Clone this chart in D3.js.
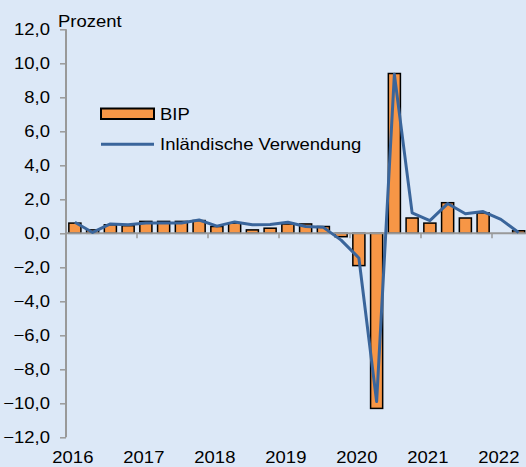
<!DOCTYPE html>
<html>
<head>
<meta charset="utf-8">
<script src="https://cdn.jsdelivr.net/npm/d3@7"></script>
<style>
  html, body { margin: 0; padding: 0; background: #dce8f7; }
  svg { display: block; font-family: "Liberation Sans", Arial, sans-serif; }
</style>
</head>
<body>
<div id="chart"></div>
<script>
// quarterly change, 2016 Q1 .. 2022 Q2
const quarters = [
    '2016Q1','2016Q2','2016Q3','2016Q4','2017Q1','2017Q2','2017Q3','2017Q4',
    '2018Q1','2018Q2','2018Q3','2018Q4','2019Q1','2019Q2','2019Q3','2019Q4',
    '2020Q1','2020Q2','2020Q3','2020Q4','2021Q1','2021Q2','2021Q3','2021Q4',
    '2022Q1','2022Q2'
];
const bip = [0.6, 0.2, 0.5, 0.45, 0.7, 0.7, 0.7, 0.75, 0.4, 0.6, 0.2, 0.3, 0.55, 0.55, 0.4, -0.2,
    -1.9, -10.3, 9.4, 0.9, 0.6, 1.8, 0.9, 1.2, 0.0, 0.15];
const inlVerwendung = [0.65, 0.05, 0.55, 0.5, 0.6, 0.6, 0.6, 0.78, 0.42, 0.67, 0.5, 0.52, 0.65, 0.4, 0.35, -0.4,
    -1.45, -9.9, 9.35, 1.2, 0.75, 1.75, 1.15, 1.28, 0.82, 0.05];
const yearLabels = ['2016', '2017', '2018', '2019', '2020', '2021', '2022'];
const yTicks = [12, 10, 8, 6, 4, 2, 0, -2, -4, -6, -8, -10, -12];

const width = 526, height = 467;
const plotLeft = 66, plotRight = 527.5, plotTop = 29.3, plotBottom = 437.3;
const fontSize = 16.5, stretch = 1.12;

const svg = d3.select('#chart').append('svg')
    .attr('width', width)
    .attr('height', height);

svg.append('rect').attr('width', width).attr('height', height).attr('fill', '#dce8f7');

const x = d3.scaleBand().domain(quarters).range([plotLeft, plotRight])
    .paddingInner(0.32).paddingOuter(0.16);
const y = d3.scaleLinear().domain([-12, 12]).range([plotBottom, plotTop]);
const cx = q => x(q) + x.bandwidth() / 2;

// text helper, glyphs are a bit wider than tall in the original
function label(sel, tx, ty, str, anchor) {
    return sel.append('text')
        .attr('transform', `translate(${tx},${ty}) scale(${stretch},1)`)
        .attr('text-anchor', anchor || 'start')
        .attr('font-size', fontSize)
        .attr('fill', '#000')
        .text(str);
}

// bars
svg.append('g').selectAll('rect')
    .data(quarters.map((q, i) => ({ q, v: bip[i] })).filter(d => d.v !== 0))
    .enter().append('rect')
    .attr('x', d => x(d.q))
    .attr('width', x.bandwidth())
    .attr('y', d => y(Math.max(0, d.v)))
    .attr('height', d => Math.abs(y(d.v) - y(0)))
    .attr('fill', '#f79646')
    .attr('stroke', '#000')
    .attr('stroke-width', 1.5);

// y axis
const yAxis = svg.append('g').attr('transform', `translate(${plotLeft},0)`)
    .call(d3.axisLeft(y).tickValues(yTicks).tickSize(6).tickFormat(''));
yAxis.select('.domain').attr('stroke', '#999').attr('stroke-width', 2).attr('d', `M0,${plotTop}V${plotBottom}`);
yAxis.selectAll('.tick line').attr('stroke', '#999').attr('stroke-width', 1.5);

yTicks.forEach(t => {
    label(svg, 50, y(t) + 6, d3.format('.1f')(t).replace('.', ','), 'end');
});
label(svg, 58, 27, 'Prozent');

// zero line with year ticks at the year boundaries
const yearTicks = d3.range(1, 7).map(k => quarters[k * 4]);
const half = (x.step() - x.bandwidth()) / 2;
const xAxis = svg.append('g').attr('transform', `translate(0,${y(0)})`)
    .call(d3.axisBottom(x).tickValues(yearTicks).tickSize(5).tickFormat(''));
xAxis.select('.domain').attr('stroke', '#999').attr('stroke-width', 2).attr('d', `M${plotLeft},0H${plotRight}`);
xAxis.selectAll('.tick').attr('transform', d => `translate(${x(d) - half},0)`);
xAxis.selectAll('.tick line').attr('stroke', '#999').attr('stroke-width', 1.5);

yearLabels.forEach((yr, i) => {
    label(svg, cx(quarters[i * 4]) - 2, 463, yr, 'middle');
});

// line
const line = d3.line().x((d, i) => cx(quarters[i])).y(d => y(d));
svg.append('path')
    .datum(inlVerwendung)
    .attr('d', line)
    .attr('fill', 'none')
    .attr('stroke', '#3a659b')
    .attr('stroke-width', 3)
    .attr('stroke-linejoin', 'round');

// legend
const legend = svg.append('g');
legend.append('rect')
    .attr('x', 101).attr('y', 108.5).attr('width', 53).attr('height', 10.5)
    .attr('fill', '#f79646').attr('stroke', '#000').attr('stroke-width', 2);
label(legend, 160, 120, 'BIP');
legend.append('line')
    .attr('x1', 101).attr('x2', 154).attr('y1', 144.3).attr('y2', 144.3)
    .attr('stroke', '#3a659b').attr('stroke-width', 3);
label(legend, 160, 150.3, 'Inländische Verwendung');
</script>
</body>
</html>
